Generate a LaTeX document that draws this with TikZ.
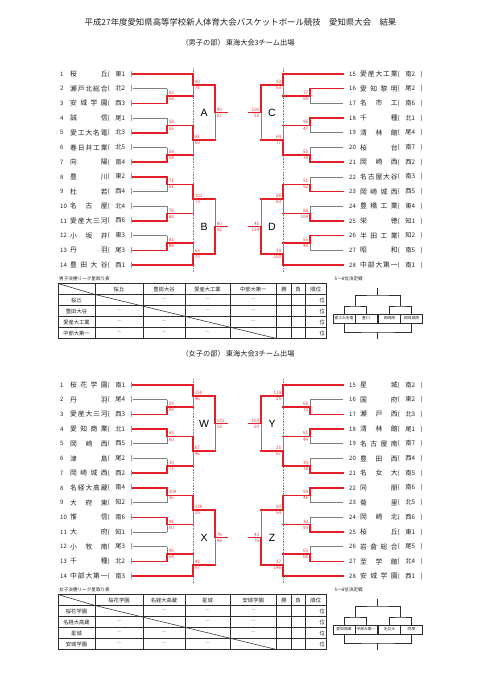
\documentclass[tikz,border=0pt]{standalone}
\usepackage{fontspec}
\setmainfont{Noto Sans CJK JP}
\newfontfamily\latinf{Liberation Sans}
\definecolor{rd}{RGB}{228,30,38}
\definecolor{rdt}{RGB}{226,62,62}
\definecolor{gy}{RGB}{128,128,128}
\definecolor{tx}{RGB}{35,35,35}
\definecolor{tb}{RGB}{45,45,45}

\def\spr#1{\sprA#1\relax}
\def\sprA#1#2{#1\ifx\relax#2\else\hfill\expandafter\sprA\expandafter#2\fi}

\tikzset{
 rl/.style={draw=rd,line width=1.5pt,line cap=rect},
 gl/.style={draw=gy,line width=0.7pt},
 sepl/.style={draw=gy,line width=0.6pt,densely dotted},
 sc/.style={text=rdt,font=\fontsize{4.6}{5}\selectfont,inner sep=0pt},
 nm/.style={text=tx,font=\fontsize{6.8}{7}\selectfont,inner sep=0pt},
 dst/.style={text=tx,font=\fontsize{6.3}{7}\selectfont,inner sep=0pt},
 num/.style={text=tx,font=\fontsize{6}{6}\selectfont,inner sep=0pt},
 blk/.style={text=black,font=\latinf\fontsize{10.5}{11}\selectfont,inner sep=0pt},
 ttl/.style={text=tx,font=\fontsize{8.4}{9}\selectfont,inner sep=0pt},
 subt/.style={text=tx,font=\fontsize{7.2}{8}\selectfont,inner sep=0pt},
 captxt/.style={text=tx,font=\fontsize{4.6}{5}\selectfont,inner sep=0pt},
 tt/.style={text=tx,font=\fontsize{5.3}{6}\selectfont,inner sep=0pt},
 dsh/.style={text=gy,font=\fontsize{5}{6}\selectfont,inner sep=0pt},
 tbl/.style={draw=tb,line width=0.55pt},
 tbo/.style={draw=tb,line width=0.9pt},
 bx/.style={draw=tb,line width=0.5pt,minimum width=22pt,minimum height=9pt,inner sep=0pt,text=tx,font=\fontsize{3.8}{4}\selectfont},
 bl/.style={draw=tb,line width=0.55pt},
}

\newcommand\rows[1]{%
 \pgfmathsetmacro\yA{#1}%
 \pgfmathsetmacro\yB{#1+14.7}%
 \pgfmathsetmacro\yC{#1+29.4}%
 \pgfmathsetmacro\yD{#1+44.1}%
 \pgfmathsetmacro\yE{#1+58.8}%
 \pgfmathsetmacro\yF{#1+73.5}%
 \pgfmathsetmacro\yG{#1+88.2}}
\newcommand\topmids{%
 \pgfmathsetmacro\mA{(\yB+\yC)/2}%
 \pgfmathsetmacro\mB{(\yD+\yE)/2}%
 \pgfmathsetmacro\mC{(\yF+\yG)/2}%
 \pgfmathsetmacro\sA{(\yA+\mA)/2}%
 \pgfmathsetmacro\sB{(\mB+\mC)/2}%
 \pgfmathsetmacro\fF{(\sA+\sB)/2}}
\newcommand\botmids{%
 \pgfmathsetmacro\mA{(\yA+\yB)/2}%
 \pgfmathsetmacro\mB{(\yC+\yD)/2}%
 \pgfmathsetmacro\mC{(\yE+\yF)/2}%
 \pgfmathsetmacro\sA{(\mA+\mB)/2}%
 \pgfmathsetmacro\sB{(\mC+\yG)/2}%
 \pgfmathsetmacro\fF{(\sA+\sB)/2}}

% team on the left: y, number, name, district, style, line end
\newcommand\teamL[6]{%
 \node[num,anchor=west] (n#2) at (60,#1) {#2};
 \node[nm,anchor=west] (t#2) at (70,#1) {\makebox[37.5pt][l]{\spr{#3}}};
 \node[dst,anchor=west] (d#2) at (107.5,#1) {\makebox[25pt][l]{(\hfill#4\hfill)}};
 \coordinate (e#2) at (#6,#1);
 \draw[#5] (133,#1) -- (e#2);}
\newcommand\teamR[6]{%
 \node[num,anchor=west] (n#2) at (349,#1) {#2};
 \node[nm,anchor=west] (t#2) at (360,#1) {\makebox[37.5pt][l]{\spr{#3}}};
 \node[dst,anchor=west] (d#2) at (397.5,#1) {\makebox[25pt][l]{(\hfill#4\hfill)}};
 \coordinate (e#2) at (#6,#1);
 \draw[#5] (343,#1) -- (e#2);}

% match: side, joint x, y top, y bottom, winner t/b, exit x, top score, bottom score
\newcommand\mtch[8]{%
 \pgfmathsetmacro\ymid{(#3+#4)/2}%
 \if t#5
  \draw[gl] (#2,\ymid) -- (#2,#4);
  \draw[rl] (#2,#3) -- (#2,\ymid) -- (#6,\ymid);
 \else
  \draw[gl] (#2,#3) -- (#2,\ymid);
  \draw[rl] (#2,#4) -- (#2,\ymid) -- (#6,\ymid);
 \fi
 \if L#1
  \node[sc,anchor=south west] at (#2+1.6,\ymid-1.2) {#7};
  \node[sc,anchor=north west] at (#2+1.6,\ymid+1.2) {#8};
 \else
  \node[sc,anchor=south east] at (#2-1.6,\ymid-1.2) {#7};
  \node[sc,anchor=north east] at (#2-1.6,\ymid+1.2) {#8};
 \fi}

\newcommand\ltable[6]{%
\begin{scope}[shift={(0,#1)}]
 \node[captxt,anchor=west] (cp) at (59,278.8) {#2};
 \foreach \yy in {294.5,305.5,316.5,327.5} \draw[tbl] (58,\yy) -- (326.5,\yy);
 \foreach \xx in {95,143,185,230} \draw[tbl] (\xx,283.5) -- (\xx,338.5);
 \foreach \xx in {276.5,291.5,305} \draw[tbo] (\xx,283.5) -- (\xx,338.5);
 \draw[tbo] (58,283.5) rectangle (326.5,338.5);
 \draw[tbl] (58,283.5) -- (95,294.5);
 \draw[tbl] (95,294.5) -- (276.5,338.5);
 \node[tt] (h1) at (119,289) {#3};
 \node[tt] (h2) at (164,289) {#4};
 \node[tt] (h3) at (207.5,289) {#5};
 \node[tt] (h4) at (253.25,289) {#6};
 \node[tt] (h5) at (284,289) {勝};
 \node[tt] (h6) at (298.25,289) {負};
 \node[tt] (h7) at (315.75,289) {順位};
 \node[tt] (r1) at (76.5,300) {#3};
 \node[tt] (r2) at (76.5,311) {#4};
 \node[tt] (r3) at (76.5,322) {#5};
 \node[tt] (r4) at (76.5,333) {#6};
 \foreach \i/\yy in {1/300,2/311,3/322,4/333}{
   \node[tt,anchor=east] (p\i) at (325,\yy) {位};
   \foreach \j/\xx in {1/119,2/164,3/207.5,4/253.25}{
     \ifnum\i=\j\else \node[dsh] (x\i\j) at (\xx,\yy) {—};\fi }}
\end{scope}}

\newcommand\fivebr[5]{%
\begin{scope}[shift={(0,#1)}]
 \node[captxt,anchor=west] (fc) at (334.5,278.8) {5～8位決定戦};
 \node[bx] (b1) at (344,318.5) {#2};
 \node[bx] (b2) at (366,318.5) {#3};
 \node[bx] (b3) at (389.5,318.5) {#4};
 \node[bx] (b4) at (411.5,318.5) {#5};
 \coordinate (q1) at (355,306);
 \coordinate (q2) at (400.5,306);
 \coordinate (q0) at (377.75,295);
 \coordinate (qt) at (377.75,288);
 \coordinate (qb) at (377.75,332);
 \coordinate (qe) at (377.75,339);
 \draw[bl] (b1.north) |- (q1) -| (b2.north);
 \draw[bl] (b3.north) |- (q2) -| (b4.north);
 \draw[bl] (q1) |- (q0) -| (q2);
 \draw[bl] (q0) -- (qt);
 \draw[bl] (b1.south) |- (qb) -| (b4.south);
 \draw[bl] (qb) -- (qe);
\end{scope}}

\begin{document}
\begin{tikzpicture}[x=1pt,y=-1pt]
\fill[white] (0,0) rectangle (481,680);
\path[use as bounding box] (0,0) rectangle (481,680);

\node[ttl] (title) at (240.5,22) {平成27年度愛知県高等学校新人体育大会バスケットボール競技　愛知県大会　結果};
\node[subt] (subm) at (238,43) {（男子の部）\,東海大会3チーム出場};
\node[subt] (subf) at (238,354) {（女子の部）\,東海大会3チーム出場};

%================ MALE ================
\begin{scope}[name prefix=m-]
% Block A
\rows{74}\topmids
\draw[sepl] (193,\yA-6) -- (193,\yG+7);
\teamL{\yA}{1}{桜丘}{東1}{rl}{193}
\teamL{\yB}{2}{瀬戸北総合}{北2}{gl}{167}
\teamL{\yC}{3}{安城学園}{西3}{rl}{167}
\teamL{\yD}{4}{誠信}{尾1}{gl}{167}
\teamL{\yE}{5}{愛工大名電}{北3}{rl}{167}
\teamL{\yF}{6}{春日井工業}{北5}{gl}{167}
\teamL{\yG}{7}{向陽}{南4}{rl}{167}
\mtch{L}{167}{\yB}{\yC}{b}{193}{62}{58}
\mtch{L}{167}{\yD}{\yE}{b}{193}{58}{55}
\mtch{L}{167}{\yF}{\yG}{b}{193}{58}{54}
\mtch{L}{193}{\yA}{\mA}{t}{215}{90}{71}
\mtch{L}{193}{\mB}{\mC}{t}{215}{81}{69}
\mtch{L}{215}{\sA}{\sB}{t}{227}{90}{67}
\node[blk] (bA) at (204,\fF) {A};
% Block C
\draw[sepl] (283,\yA-6) -- (283,\yG+7);
\teamR{\yA}{15}{愛産大工業}{南2}{rl}{283}
\teamR{\yB}{16}{愛知黎明}{尾2}{rl}{310}
\teamR{\yC}{17}{名市工}{南6}{gl}{310}
\teamR{\yD}{18}{千種}{北1}{rl}{310}
\teamR{\yE}{19}{清林館}{尾4}{gl}{310}
\teamR{\yF}{20}{桜台}{南7}{gl}{310}
\teamR{\yG}{21}{岡崎西}{西2}{rl}{310}
\mtch{R}{310}{\yB}{\yC}{t}{283}{77}{56}
\mtch{R}{310}{\yD}{\yE}{t}{283}{95}{47}
\mtch{R}{310}{\yF}{\yG}{b}{283}{50}{74}
\mtch{R}{283}{\yA}{\mA}{t}{261}{93}{63}
\mtch{R}{283}{\mB}{\mC}{b}{261}{64}{77}
\mtch{R}{261}{\sA}{\sB}{t}{249}{106}{55}
\node[blk] (bC) at (272,\fF) {C};
% Block B
\rows{176.9}\botmids
\draw[sepl] (193,\yA-5) -- (193,\yG+7);
\teamL{\yA}{8}{豊川}{東2}{rl}{167}
\teamL{\yB}{9}{杜若}{西4}{gl}{167}
\teamL{\yC}{10}{名古屋}{北4}{gl}{167}
\teamL{\yD}{11}{愛産大三河}{西6}{rl}{167}
\teamL{\yE}{12}{小坂井}{東3}{gl}{167}
\teamL{\yF}{13}{丹羽}{尾3}{rl}{167}
\teamL{\yG}{14}{豊田大谷}{西1}{rl}{193}
\mtch{L}{167}{\yA}{\yB}{t}{193}{71}{61}
\mtch{L}{167}{\yC}{\yD}{b}{193}{76}{82}
\mtch{L}{167}{\yE}{\yF}{b}{193}{81}{84}
\mtch{L}{193}{\mA}{\mB}{t}{215}{101}{73}
\mtch{L}{193}{\mC}{\yG}{b}{215}{63}{70}
\mtch{L}{215}{\sA}{\sB}{b}{227}{60}{92}
\node[blk] (bB) at (204,\fF) {B};
% Block D
\draw[sepl] (283,\yA-5) -- (283,\yG+7);
\teamR{\yA}{22}{名古屋大谷}{南3}{gl}{310}
\teamR{\yB}{23}{岡崎城西}{西5}{rl}{310}
\teamR{\yC}{24}{豊橋工業}{東4}{gl}{310}
\teamR{\yD}{25}{栄徳}{知1}{rl}{310}
\teamR{\yE}{26}{半田工業}{知2}{rl}{310}
\teamR{\yF}{27}{昭和}{南5}{gl}{310}
\teamR{\yG}{28}{中部大第一}{南1}{rl}{283}
\mtch{R}{310}{\yA}{\yB}{b}{283}{91}{92}
\mtch{R}{310}{\yC}{\yD}{b}{283}{88}{104}
\mtch{R}{310}{\yE}{\yF}{t}{283}{55}{49}
\mtch{R}{283}{\mA}{\mB}{t}{261}{88}{83}
\mtch{R}{283}{\mC}{\yG}{b}{261}{39}{100}
\mtch{R}{261}{\sA}{\sB}{b}{249}{45}{124}
\node[blk] (bD) at (272,\fF) {D};
\ltable{0}{男子決勝リーグ星取り表}{桜丘}{豊田大谷}{愛産大工業}{中部大第一}
\fivebr{0}{愛工大名電}{豊川}{岡崎西}{岡崎城西}
\end{scope}

%================ FEMALE ================
\begin{scope}[name prefix=f-]
% Block W
\rows{385}\topmids
\draw[sepl] (193,\yA-6) -- (193,\yG+7);
\teamL{\yA}{1}{桜花学園}{南1}{rl}{193}
\teamL{\yB}{2}{丹羽}{尾4}{gl}{167}
\teamL{\yC}{3}{愛産大三河}{西3}{rl}{167}
\teamL{\yD}{4}{愛知商業}{北1}{rl}{167}
\teamL{\yE}{5}{岡崎西}{西5}{gl}{167}
\teamL{\yF}{6}{津島}{尾2}{gl}{167}
\teamL{\yG}{7}{岡崎城西}{西2}{rl}{167}
\mtch{L}{167}{\yB}{\yC}{b}{193}{29}{84}
\mtch{L}{167}{\yD}{\yE}{t}{193}{69}{60}
\mtch{L}{167}{\yF}{\yG}{b}{193}{30}{77}
\mtch{L}{193}{\yA}{\mA}{t}{215}{155}{46}
\mtch{L}{193}{\mB}{\mC}{t}{215}{67}{46}
\mtch{L}{215}{\sA}{\sB}{t}{227}{131}{13}
\node[blk] (bW) at (204,\fF) {W};
% Block Y
\draw[sepl] (283,\yA-6) -- (283,\yG+7);
\teamR{\yA}{15}{星城}{南2}{rl}{283}
\teamR{\yB}{16}{国府}{東2}{gl}{310}
\teamR{\yC}{17}{瀬戸西}{北3}{rl}{310}
\teamR{\yD}{18}{清林館}{尾1}{rl}{310}
\teamR{\yE}{19}{名古屋南}{南7}{gl}{310}
\teamR{\yF}{20}{豊田西}{西4}{gl}{310}
\teamR{\yG}{21}{名女大}{南5}{rl}{310}
\mtch{R}{310}{\yB}{\yC}{b}{283}{65}{73}
\mtch{R}{310}{\yD}{\yE}{t}{283}{61}{44}
\mtch{R}{310}{\yF}{\yG}{b}{283}{39}{78}
\mtch{R}{283}{\yA}{\mA}{t}{261}{114}{25}
\mtch{R}{283}{\mB}{\mC}{b}{261}{25}{67}
\mtch{R}{261}{\sA}{\sB}{t}{249}{103}{50}
\node[blk] (bY) at (272,\fF) {Y};
% Block X
\rows{487.9}\botmids
\draw[sepl] (193,\yA-5) -- (193,\yG+7);
\teamL{\yA}{8}{名経大高蔵}{南4}{rl}{167}
\teamL{\yB}{9}{大府東}{知2}{gl}{167}
\teamL{\yC}{10}{惟信}{南6}{rl}{167}
\teamL{\yD}{11}{大府}{知1}{gl}{167}
\teamL{\yE}{12}{小牧南}{尾3}{gl}{167}
\teamL{\yF}{13}{千種}{北2}{rl}{167}
\teamL{\yG}{14}{中部大第一}{南3}{rl}{193}
\mtch{L}{167}{\yA}{\yB}{t}{193}{104}{35}
\mtch{L}{167}{\yC}{\yD}{t}{193}{91}{50}
\mtch{L}{167}{\yE}{\yF}{b}{193}{46}{54}
\mtch{L}{193}{\mA}{\mB}{t}{215}{116}{29}
\mtch{L}{193}{\mC}{\yG}{b}{215}{42}{97}
\mtch{L}{215}{\sA}{\sB}{t}{227}{76}{48}
\node[blk] (bX) at (204,\fF) {X};
% Block Z
\draw[sepl] (283,\yA-5) -- (283,\yG+7);
\teamR{\yA}{22}{同朋}{南6}{rl}{310}
\teamR{\yB}{23}{菊里}{北5}{gl}{310}
\teamR{\yC}{24}{岡崎北}{西6}{gl}{310}
\teamR{\yD}{25}{桜丘}{東1}{rl}{310}
\teamR{\yE}{26}{岩倉総合}{尾5}{gl}{310}
\teamR{\yF}{27}{至学館}{北4}{rl}{310}
\teamR{\yG}{28}{安城学園}{西1}{rl}{283}
\mtch{R}{310}{\yA}{\yB}{t}{283}{94}{46}
\mtch{R}{310}{\yC}{\yD}{b}{283}{30}{99}
\mtch{R}{310}{\yE}{\yF}{b}{283}{63}{66}
\mtch{R}{283}{\mA}{\mB}{t}{261}{93}{54}
\mtch{R}{283}{\mC}{\yG}{b}{261}{37}{146}
\mtch{R}{261}{\sA}{\sB}{b}{249}{43}{75}
\node[blk] (bZ) at (272,\fF) {Z};
\ltable{311}{女子決勝リーグ星取り表}{桜花学園}{名経大高蔵}{星城}{安城学園}
\fivebr{311}{愛知商業}{中部大第一}{名女大}{同朋}
\end{scope}
\end{tikzpicture}
\end{document}
